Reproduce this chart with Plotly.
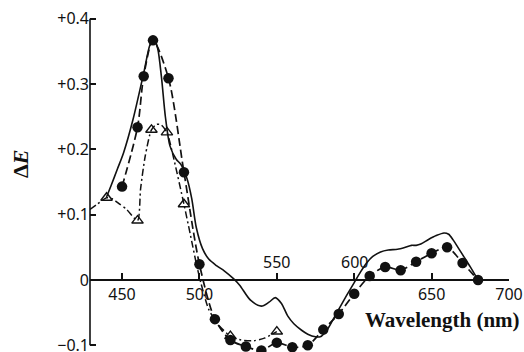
import plotly.graph_objects as go

# ---- data ----
# solid curve (no markers)
solid_x = [440, 443, 447, 451, 457, 464, 468, 470.5, 473, 475.5, 478, 481, 485, 488, 492, 495, 498,
           502, 506, 511, 516, 522, 526, 533, 540, 545, 549, 553, 557, 561, 566, 570, 575, 578,
           582, 586, 590, 595, 600, 604, 608, 612, 617, 622, 628, 633, 637, 640, 643, 648, 653,
           658, 661, 664, 667, 671, 675, 680]
solid_y = [0.127, 0.145, 0.170, 0.195, 0.245, 0.317, 0.360, 0.370, 0.355, 0.310, 0.250, 0.205,
           0.185, 0.177, 0.155, 0.125, 0.080, 0.048, 0.032, 0.022, 0.014, 0.002, -0.008, -0.031,
           -0.040, -0.034, -0.027, -0.036, -0.055, -0.067, -0.077, -0.083, -0.087, -0.087, -0.078,
           -0.062, -0.045, -0.024, -0.004, 0.012, 0.026, 0.036, 0.043, 0.046, 0.047, 0.050, 0.053,
           0.053, 0.055, 0.062, 0.068, 0.072, 0.070, 0.061, 0.050, 0.035, 0.020, 0.000]

# dashed curve with filled circles
circ_x = [450, 460, 464, 470, 480, 490, 500, 510, 520, 530, 540, 550, 560, 570, 580, 590, 600,
          610, 620, 630, 640, 650, 660, 670, 680]
circ_y = [0.143, 0.234, 0.312, 0.367, 0.309, 0.165, 0.024, -0.060, -0.092, -0.102, -0.108, -0.096,
          -0.103, -0.100, -0.076, -0.052, -0.021, 0.006, 0.020, 0.015, 0.028, 0.041, 0.050, 0.026,
          0.000]

# dash-dot curve
dd_x = [429.3, 434, 440, 444, 448, 453, 460, 462, 465, 469, 472, 475, 479, 483, 490, 494, 498,
        501, 506, 512, 520, 527, 535, 542, 550]
dd_y = [0.108, 0.116, 0.126, 0.124, 0.117, 0.108, 0.091, 0.140, 0.190, 0.230, 0.238, 0.238, 0.226,
        0.190, 0.116, 0.071, 0.025, -0.005, -0.045, -0.068, -0.086, -0.092, -0.093, -0.089, -0.079]

# open triangles on the dash-dot curve
tri_x = [440, 460, 469, 479, 490, 520, 550]
tri_y = [0.126, 0.091, 0.230, 0.226, 0.116, -0.086, -0.079]

x_ticks = [450, 500, 550, 600, 650, 700]
x_ticktext = ["450", "500", "", "", "650", "700"]
x_above_labels = ["550", "600"]
x_above_vals = [550, 600]
y_ticks = [-0.1, 0, 0.1, 0.2, 0.3, 0.4]
y_ticktext = ["\u22120.1", "0", "+0.1", "+0.2", "+0.3", "+0.4"]

# ---- figure ----
ink = "#111111"
fig = go.Figure()
fig.add_trace(go.Scatter(x=solid_x, y=solid_y, mode="lines",
                         line=dict(color=ink, width=1.6, shape="spline", smoothing=0.8),
                         cliponaxis=False))
fig.add_trace(go.Scatter(x=circ_x, y=circ_y, mode="lines+markers",
                         line=dict(color=ink, width=1.7, dash="8px,4px", shape="spline", smoothing=0.8),
                         marker=dict(symbol="circle", size=10.5, color=ink),
                         cliponaxis=False))
fig.add_trace(go.Scatter(x=dd_x, y=dd_y, mode="lines",
                         line=dict(color=ink, width=1.5, dash="7px,3px,2px,3px", shape="spline", smoothing=0.7),
                         cliponaxis=False))
fig.add_trace(go.Scatter(x=tri_x, y=tri_y, mode="markers",
                         marker=dict(symbol="triangle-up-open", size=10, color=ink, line=dict(width=1.4)),
                         cliponaxis=False))

y_lo, y_hi = -0.1103, 0.4288
x_lo, x_hi = 429.3, 700
zero_pos = (0 - y_lo) / (y_hi - y_lo)

tick_font = dict(family="Noto Sans", size=16, color=ink)

fig.update_layout(
    width=524, height=352,
    margin=dict(l=90, r=15, t=0, b=0, autoexpand=False),
    paper_bgcolor="white", plot_bgcolor="white",
    showlegend=False,
    xaxis=dict(range=[x_lo, x_hi], tickvals=x_ticks, ticktext=x_ticktext,
               ticks="inside", ticklen=6, tickwidth=1.5, tickcolor=ink,
               showline=True, linecolor=ink, linewidth=1.6,
               anchor="free", position=zero_pos, automargin=False, ticklabeloverflow="allow",
               showgrid=False, zeroline=False, tickfont=tick_font),
    yaxis=dict(range=[y_lo, y_hi], tickvals=y_ticks, ticktext=y_ticktext,
               ticks="inside", ticklen=6, tickwidth=1.5, tickcolor=ink, automargin=False,
               ticklabeloverflow="allow",
               showline=False, showgrid=False, zeroline=False, tickfont=tick_font),
)

# y axis line from -0.1 to +0.4
fig.add_shape(type="line", xref="paper", yref="y", x0=0, x1=0, y0=y_ticks[0], y1=y_ticks[-1],
              line=dict(color=ink, width=1.6))

for lab, v in zip(x_above_labels, x_above_vals):
    fig.add_annotation(x=v, y=0, xref="x", yref="y", text=lab, showarrow=False,
                       xanchor="center", yanchor="bottom", yshift=5, font=tick_font)

fig.add_annotation(x=(20 - 90) / 419, y=(352 - 164) / 352, xref="paper", yref="paper",
                   text="<b>\u0394<i>E</i></b>", showarrow=False, textangle=-90,
                   xanchor="center", yanchor="middle",
                   font=dict(family="Liberation Serif", size=22, color=ink))
fig.add_annotation(x=(442 - 90) / 419, y=(352 - 320) / 352, xref="paper", yref="paper",
                   text="<b>Wavelength (nm)</b>", showarrow=False,
                   xanchor="center", yanchor="middle",
                   font=dict(family="Liberation Serif", size=21, color=ink))

fig.write_html("out.html", config={"displayModeBar": False},
               post_script="document.body.style.margin='0';document.body.style.overflow='hidden';")
